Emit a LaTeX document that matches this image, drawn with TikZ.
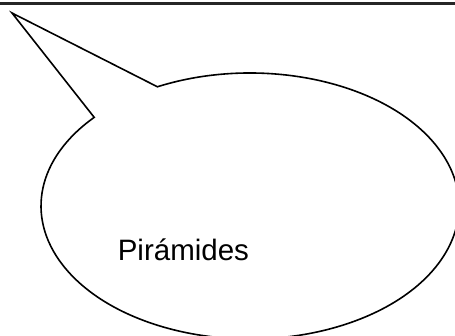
\documentclass[tikz,border=0pt]{standalone}
\usepackage{fontspec}
\setmainfont{Liberation Sans}
\usetikzlibrary{positioning}

\begin{document}
\begin{tikzpicture}[x=1pt, y=1pt, line width=1.6pt, bubble/.style={draw, line join=miter}, every node/.style={inner sep=0pt}]
\useasboundingbox (0,0) rectangle (455,-335);
\clip (0,0) rectangle (455,-335);
\coordinate (center) at (250,-206);
\coordinate (tip) at (12,-13);
% frame line on top
\draw[line width=2.2pt, black!85] (0,-3.5) -- (455,-3.5);
% speech bubble
\draw[bubble] ([shift={(116.3:209 and 133)}]center)
  arc[start angle=116.3, end angle=-221.8, x radius=209, y radius=133]
  -- (tip) -- cycle;
\node[anchor=base west, font=\fontsize{29.5}{35}\selectfont] (label) at (117,-260) {Pirámides};
\end{tikzpicture}
\end{document}
